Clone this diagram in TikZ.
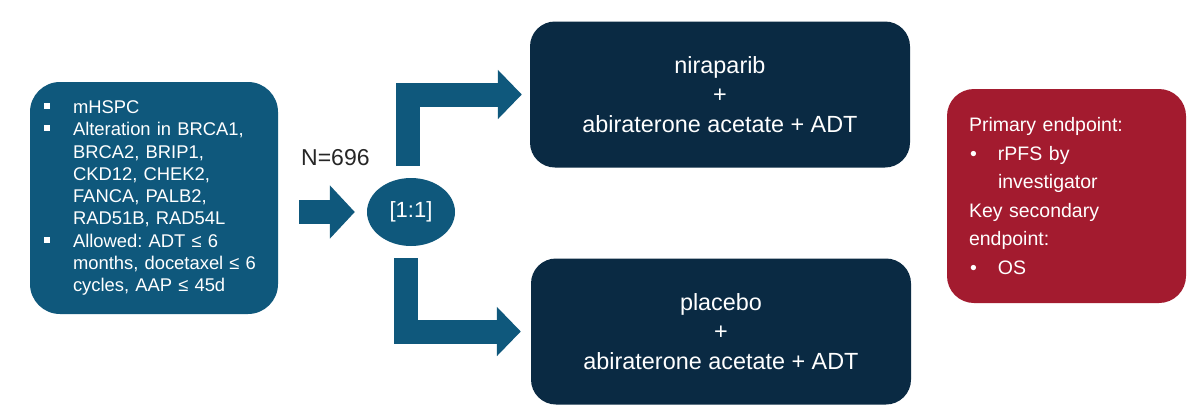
\documentclass[tikz,border=0pt]{standalone}
\usepackage{fontspec}
\setmainfont{Liberation Sans}
\usetikzlibrary{arrows.meta,shapes.geometric}
\definecolor{cteal}{RGB}{15,88,124}
\definecolor{cnavy}{RGB}{10,42,67}
\definecolor{cred}{RGB}{163,27,47}
\newcommand\sqbul{\makebox[29pt][l]{\rule[4.5pt]{6pt}{6pt}}}
\newcommand\rdbul{\makebox[29pt][l]{\hspace{1pt}•}}
\newcommand\ind{\hspace*{29pt}}
\frenchspacing
\begin{document}
\begin{tikzpicture}[x=1pt,y=-1pt,
  eligbox/.style={fill=cteal, rounded corners=30pt, text=white, align=left,
    font=\fontsize{18.4}{22.25}\selectfont, inner sep=0pt},
  armbox/.style={fill=cnavy, rounded corners=25pt, text=white, align=center,
    font=\fontsize{23.4}{29.5}\selectfont, inner sep=0pt,
    minimum width=380pt, minimum height=146pt},
  endbox/.style={fill=cred, rounded corners=27pt, text=white, align=left,
    font=\fontsize{19.5}{28.6}\selectfont, inner sep=0pt},
  blockarrow/.style={draw=cteal, line width=24pt, line join=miter, line cap=butt},
  randnode/.style={ellipse, fill=cteal, text=white, inner sep=0pt,
    minimum width=88pt, minimum height=68pt, font=\fontsize{22}{26}\selectfont}
]
\useasboundingbox[fill=white] (0,0) rectangle (1200,413);

\node[eligbox, minimum width=248pt, minimum height=232pt, text width=220pt] (elig) at (154,198)
 {\frenchspacing\sqbul mHSPC\\
  \sqbul Alteration in BRCA1,\\
  \ind BRCA2, BRIP1,\\
  \ind CKD12, CHEK2,\\
  \ind FANCA, PALB2,\\
  \ind RAD51B, RAD54L\\
  \sqbul Allowed: ADT ≤ 6\\
  \ind months, docetaxel ≤ 6\\
  \ind cycles, AAP ≤ 45d};

\node[randnode] (rand) at (411,212) {[1:1]};
\node[anchor=base west, inner sep=0pt, font=\fontsize{23}{27}\selectfont, text=black!85] (n) at (301,165) {N=696};

\node[armbox] (armA) at (720,94.5) {niraparib\\+\\abiraterone acetate + ADT};
\node[armbox] (armB) at (721,331.5) {placebo\\+\\abiraterone acetate + ADT};

\node[endbox, minimum width=239pt, minimum height=214pt, text width=195pt] (ends) at (1066.5,196)
 {\frenchspacing Primary endpoint:\\
  \rdbul rPFS by\\
  \ind investigator\\
  Key secondary\\
  endpoint:\\
  \rdbul OS};

\coordinate (inst) at (299,212);
\coordinate (upst) at (408,166);
\coordinate (lost) at (406,258);

\draw[blockarrow, -{Triangle[width=52pt,length=25pt]}] (inst) -- ([xshift=-12pt]rand.west);
\draw[blockarrow, -{Triangle[width=48pt,length=24pt]}] (upst) |- ([xshift=-8pt]armA.west);
\draw[blockarrow, -{Triangle[width=48pt,length=24pt]}] (lost) |- ([xshift=-10pt]armB.west);
\end{tikzpicture}
\end{document}
